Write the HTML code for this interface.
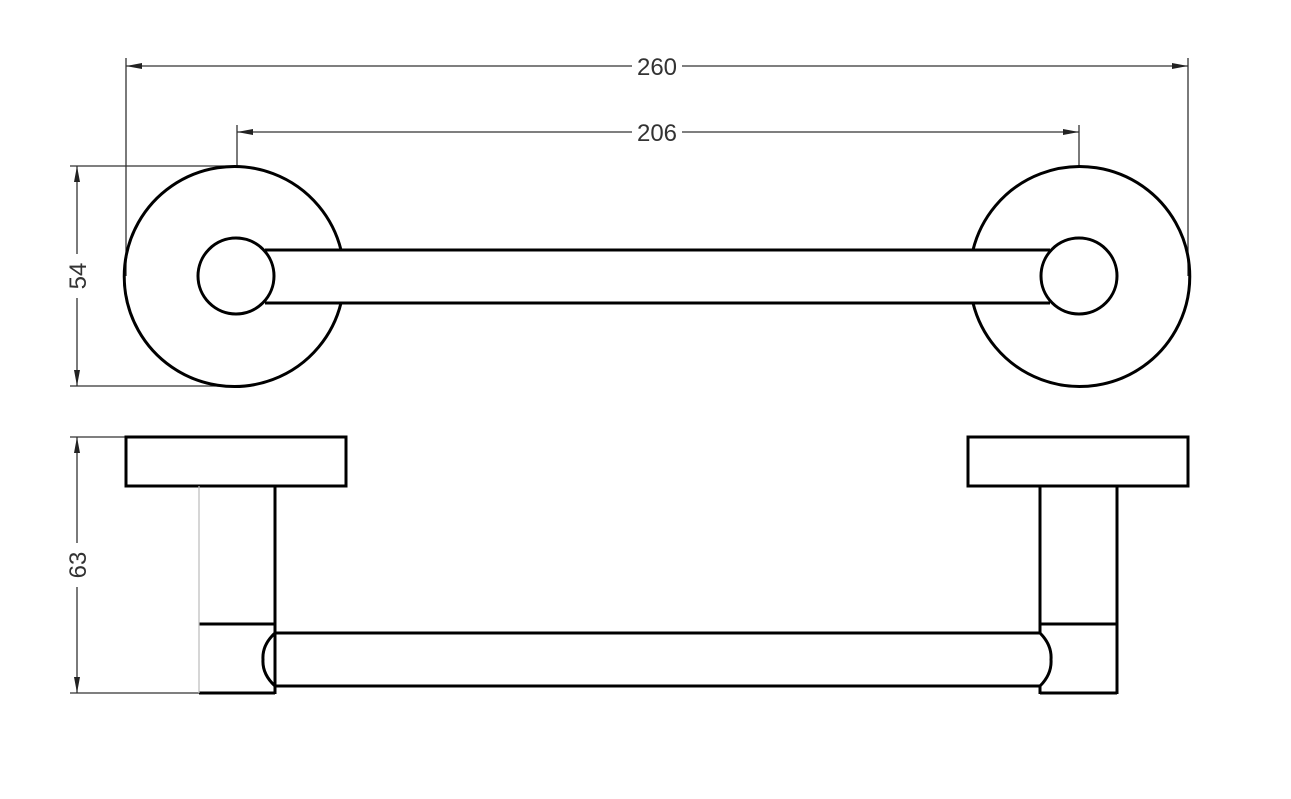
<!DOCTYPE html>
<html><head><style>html,body{margin:0;padding:0;background:#fff;}svg{display:block}</style></head>
<body>
<svg width="1291" height="799" viewBox="0 0 1291 799" xmlns="http://www.w3.org/2000/svg">
<defs>
<marker id="a" viewBox="0 0 16 6" refX="16" refY="3" markerWidth="16" markerHeight="6" markerUnits="userSpaceOnUse" orient="auto-start-reverse"><path d="M0,0L16,3L0,6z" fill="#222"/></marker>
</defs>
<g stroke="#333" stroke-width="1.3" fill="none">
<!-- extension lines -->
<line x1="126" y1="58" x2="126" y2="276"/>
<line x1="1188" y1="58" x2="1188" y2="276"/>
<line x1="237" y1="125" x2="237" y2="166"/>
<line x1="1079" y1="125" x2="1079" y2="166"/>
<line x1="70" y1="166" x2="236" y2="166"/>
<line x1="70" y1="386" x2="236" y2="386"/>
<line x1="70" y1="437" x2="126" y2="437"/>
<line x1="70" y1="693" x2="199" y2="693"/>
<!-- dim lines -->
<line x1="126" y1="66" x2="632" y2="66" marker-start="url(#a)"/>
<line x1="682" y1="66" x2="1188" y2="66" marker-end="url(#a)"/>
<line x1="237" y1="132" x2="632" y2="132" marker-start="url(#a)"/>
<line x1="682" y1="132" x2="1079" y2="132" marker-end="url(#a)"/>
<line x1="77" y1="166" x2="77" y2="254" marker-start="url(#a)"/>
<line x1="77" y1="298" x2="77" y2="386" marker-end="url(#a)"/>
<line x1="77" y1="437" x2="77" y2="543" marker-start="url(#a)"/>
<line x1="77" y1="587" x2="77" y2="693" marker-end="url(#a)"/>
</g>
<g font-family="Liberation Sans, sans-serif" font-size="24" fill="#333" text-anchor="middle">
<text x="657" y="75">260</text>
<text x="657" y="141">206</text>
<text transform="translate(86,276) rotate(-90)">54</text>
<text transform="translate(86,565) rotate(-90)">63</text>
</g>
<g stroke="#000" stroke-width="3" fill="none">
<!-- top view -->
<path d="M341,250 A110,110 0 1 0 341,303"/>
<circle cx="236" cy="276" r="38"/>
<path d="M973,250 A110,110 0 1 1 973,303"/>
<circle cx="1079" cy="276" r="38"/>
<line x1="265" y1="250" x2="1050" y2="250"/>
<line x1="265" y1="303" x2="1050" y2="303"/>
<!-- side view -->
<rect x="126" y="437" width="220" height="49"/>
<rect x="968" y="437" width="220" height="49"/>
<line x1="275" y1="486" x2="275" y2="694"/>
<line x1="199" y1="624" x2="275" y2="624"/>
<line x1="199" y1="693" x2="275" y2="693"/>
<line x1="275" y1="633" x2="1040" y2="633"/>
<line x1="275" y1="686" x2="1040" y2="686"/>
<path d="M275,633 Q262,645 263,659.5 Q262,674 275,686"/>
<line x1="1040" y1="486" x2="1040" y2="633"/>
<line x1="1040" y1="686" x2="1040" y2="694"/>
<path d="M1040,633 Q1052,645 1051,659.5 Q1052,674 1040,686"/>
<line x1="1117" y1="486" x2="1117" y2="694"/>
<line x1="1040" y1="624" x2="1117" y2="624"/>
<line x1="1040" y1="693" x2="1117" y2="693"/>
</g>
<line x1="199" y1="486" x2="199" y2="693" stroke="#bbb" stroke-width="1.2"/>
</svg>
</body></html>
